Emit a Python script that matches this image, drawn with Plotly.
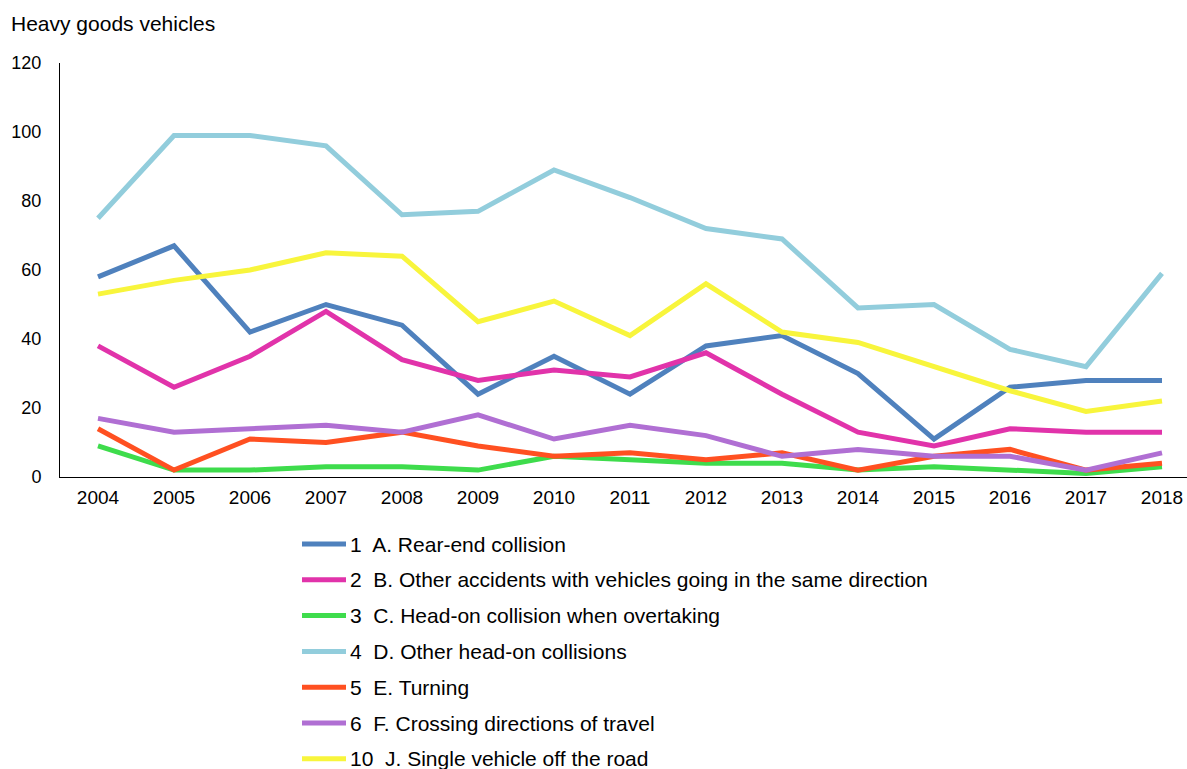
import plotly.graph_objects as go

years = [str(y) for y in range(2004, 2019)]

rear_end = [58, 67, 42, 50, 44, 24, 35, 24, 38, 41, 30, 11, 26, 28, 28]
same_direction = [38, 26, 35, 48, 34, 28, 31, 29, 36, 24, 13, 9, 14, 13, 13]
head_on_overtaking = [9, 2, 2, 3, 3, 2, 6, 5, 4, 4, 2, 3, 2, 1, 3]
other_head_on = [75, 99, 99, 96, 76, 77, 89, 81, 72, 69, 49, 50, 37, 32, 59]
turning = [14, 2, 11, 10, 13, 9, 6, 7, 5, 7, 2, 6, 8, 2, 4]
crossing = [17, 13, 14, 15, 13, 18, 11, 15, 12, 6, 8, 6, 6, 2, 7]
off_road = [53, 57, 60, 65, 64, 45, 51, 41, 56, 42, 39, 32, 25, 19, 22]

names = [
    "1\u00a0 A. Rear-end collision",
    "2\u00a0 B. Other accidents with vehicles going in the same direction",
    "3\u00a0 C. Head-on collision when overtaking",
    "4\u00a0 D. Other head-on collisions",
    "5\u00a0 E. Turning",
    "6\u00a0 F. Crossing directions of travel",
    "10\u00a0 J. Single vehicle off the road",
]
values = [rear_end, same_direction, head_on_overtaking, other_head_on, turning, crossing, off_road]
colors = ["#4F81BD", "#E133AA", "#3EDC4C", "#92CDDC", "#FF5021", "#B06FD3", "#F8F53C"]

W, H = 1187, 769
L, T, B = 60, 63, 292
plot_w = W - L
plot_h = H - T - B


def px_x(px):
    return (px - L) / plot_w


def px_y(py):
    return (H - B - py) / plot_h


fig = go.Figure()
for name, vals, color in zip(names, values, colors):
    fig.add_trace(go.Scatter(
        x=years, y=vals, name=name, mode="lines",
        line=dict(color=color, width=5),
        showlegend=False,
    ))

shapes = []
annotations = [dict(
    text="Heavy goods vehicles", x=px_x(9), xref="paper", xanchor="left",
    y=px_y(23), yref="paper", yanchor="middle", showarrow=False,
    font=dict(size=21),
)]

row0, row_gap = 544, 35.8
for i, (name, color) in enumerate(zip(names, colors)):
    yc = row0 + i * row_gap
    shapes.append(dict(
        type="line", xref="paper", yref="paper",
        x0=px_x(302), x1=px_x(346), y0=px_y(yc), y1=px_y(yc),
        line=dict(color=color, width=5),
    ))
    annotations.append(dict(
        text=name, x=px_x(348), xref="paper", xanchor="left",
        y=px_y(yc), yref="paper", yanchor="middle", showarrow=False,
        font=dict(size=21),
    ))

fig.update_layout(
    width=W, height=H,
    paper_bgcolor="white", plot_bgcolor="white",
    margin=dict(l=L, r=0, t=T, b=B, autoexpand=False),
    font=dict(family="Liberation Sans, Arial, sans-serif", size=18, color="#000000"),
    showlegend=False,
    shapes=shapes,
    annotations=annotations,
)

fig.update_xaxes(
    type="category",
    range=[-0.5, 14.5 - 13 / 76],
    showline=True, linecolor="#000000", linewidth=1,
    showgrid=False, ticks="", zeroline=False,
    tickfont=dict(size=19),
    ticklabelstandoff=3,
)
fig.update_yaxes(
    range=[0, 120], dtick=20,
    showline=True, linecolor="#000000", linewidth=1,
    showgrid=False, ticks="", zeroline=False,
    tickfont=dict(size=18),
    ticklabelstandoff=14,
)

fig.write_html("out.html")
